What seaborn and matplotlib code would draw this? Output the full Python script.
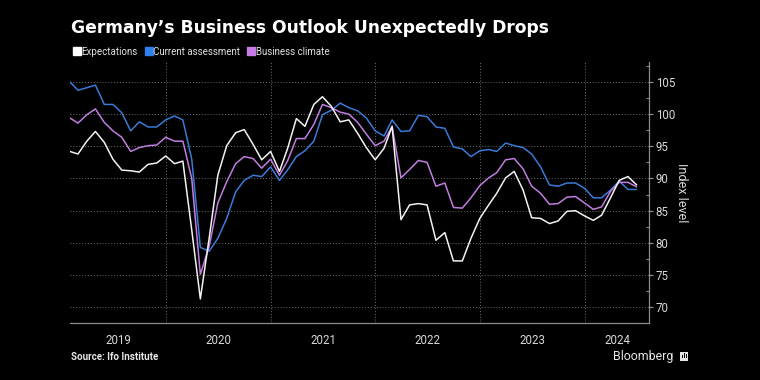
import numpy as np
import pandas as pd
import seaborn as sns
import matplotlib.pyplot as plt
import matplotlib.dates as mdates
import matplotlib.transforms as mtransforms
from matplotlib.lines import Line2D
from matplotlib.patches import Rectangle

# ifo index, monthly, Jan 2019 - Jun 2024
months = pd.date_range("2019-01-01", periods=66, freq="MS") + pd.offsets.MonthEnd(0)

expectations = [94.2, 93.8, 95.8, 97.3, 95.6, 93.0, 91.3, 91.2, 91.0, 92.2, 92.4, 93.5,
                92.3, 92.7, 82.0, 71.3, 80.8, 90.5, 95.1, 97.1, 97.6, 95.3, 92.9, 94.2,
                91.1, 94.6, 99.3, 98.1, 101.5, 102.7, 101.2, 98.8, 99.1, 97.0, 94.8, 92.9,
                94.7, 98.1, 83.6, 85.9, 86.1, 85.9, 80.4, 81.6, 77.2, 77.2, 80.7, 83.8,
                85.9, 87.7, 90.1, 91.1, 88.2, 83.9, 83.8, 83.0, 83.4, 84.9, 85.0, 84.2,
                83.5, 84.3, 87.0, 89.7, 90.3, 89.0]
current = [105.0, 103.7, 104.1, 104.5, 101.5, 101.5, 100.2, 97.4, 98.8, 98.0, 98.0, 99.1,
           99.7, 99.1, 93.0, 79.3, 78.7, 80.7, 83.8, 87.9, 89.7, 90.5, 90.3, 91.8,
           89.7, 91.3, 93.4, 94.3, 95.8, 99.9, 100.6, 101.7, 101.0, 100.5, 99.4, 97.4,
           96.6, 99.1, 97.3, 97.4, 99.8, 99.6, 98.0, 97.8, 94.9, 94.6, 93.4, 94.3,
           94.5, 94.2, 95.5, 95.1, 94.8, 93.8, 91.8, 89.0, 88.8, 89.3, 89.3, 88.5,
           87.0, 87.0, 88.2, 89.6, 88.3, 88.3]
climate = [99.4, 98.6, 99.9, 100.8, 98.7, 97.4, 96.4, 94.2, 94.8, 95.1, 95.2, 96.4,
           95.8, 95.8, 90.0, 75.1, 79.5, 86.2, 89.5, 92.3, 93.4, 93.1, 91.6, 93.0,
           90.5, 92.7, 96.2, 96.2, 98.4, 101.5, 101.0, 100.3, 100.0, 98.7, 96.9, 95.1,
           95.8, 98.1, 90.1, 91.4, 92.8, 92.5, 88.8, 89.3, 85.5, 85.4, 87.0, 88.9,
           90.1, 90.9, 92.9, 93.1, 91.5, 88.8, 87.7, 86.0, 86.1, 87.1, 87.2, 86.2,
           85.2, 85.6, 88.0, 89.4, 89.4, 88.7]

series = ["Expectations", "Current assessment", "Business climate"]
colors = {"Expectations": "#f2f2f2", "Current assessment": "#3a7bd5", "Business climate": "#c17de0"}
legend_colors = {"Expectations": "#ffffff", "Current assessment": "#2f80ed", "Business climate": "#c77be6"}
years = [2019, 2020, 2021, 2022, 2023, 2024]

df = pd.concat([
    pd.DataFrame({"date": months, "value": current, "series": "Current assessment"}),
    pd.DataFrame({"date": months, "value": climate, "series": "Business climate"}),
    pd.DataFrame({"date": months, "value": expectations, "series": "Expectations"}),
])

sns.set_style("dark")
plt.rcParams["font.family"] = ["Roboto", "DejaVu Sans"]
fig = plt.figure(figsize=(7.6, 3.8), dpi=100, facecolor="black")
ax = fig.add_axes([0.092, 0.149, 0.7626, 0.688])
ax.set_facecolor("black")

sns.lineplot(data=df, x="date", y="value", hue="series", palette=colors,
             linewidth=1.1, ax=ax, legend=False)

x0, x1 = pd.Timestamp("2019-01-31"), pd.Timestamp("2024-08-14")
ax.set_xlim(x0, x1)
ax.set_ylim(67.9, 108.1)

# axes look
for s in ["left", "top"]:
    ax.spines[s].set_visible(False)
for s in ["bottom", "right"]:
    ax.spines[s].set_color("#8a8a8a")
    ax.spines[s].set_linewidth(0.9)

ax.yaxis.tick_right()
ax.yaxis.set_label_position("right")
ax.set_yticks(np.arange(70, 106, 5))
ax.set_yticks(np.arange(67.5, 108, 2.5), minor=True)
ax.tick_params(axis="y", which="major", colors="#8a8a8a", labelcolor="#d9d9d9",
               labelsize=8.3, length=3, width=0.9, pad=1.5)
ax.tick_params(axis="y", which="minor", colors="#8a8a8a", length=2, width=0.8, direction="in")
ax.set_ylabel("Index level", color="#d9d9d9", fontsize=9, rotation=270, labelpad=9)
ax.set_xlabel("")

ax.xaxis.set_major_locator(mdates.YearLocator())
ax.xaxis.set_minor_locator(mdates.MonthLocator(bymonth=[4, 7, 10]))
ax.xaxis.set_major_formatter(plt.NullFormatter())
ax.tick_params(axis="x", which="major", colors="#8a8a8a", length=27, width=0.8)
ax.tick_params(axis="x", which="minor", colors="#8a8a8a", length=3, width=0.8)

ax.grid(axis="y", which="major", color="#6e6e6e", linestyle=(0, (1, 2)), linewidth=0.7)
ax.grid(axis="x", which="major", color="#6e6e6e", linestyle=(0, (1, 2)), linewidth=0.7)
ax.grid(axis="x", which="minor", visible=False)
ax.set_axisbelow(True)

# year labels centred in the visible part of each year
trans = mtransforms.blended_transform_factory(ax.transData, ax.transAxes)
for yr in years:
    a = max(pd.Timestamp(f"{yr}-01-01"), x0)
    b = min(pd.Timestamp(f"{yr + 1}-01-01"), x1)
    mid = mdates.date2num(a) + (mdates.date2num(b) - mdates.date2num(a)) / 2
    ax.text(mid, -0.065, str(yr), transform=trans, ha="center", va="center",
            color="#d9d9d9", fontsize=8.3)

# legend
handles = [Line2D([], [], marker="s", linestyle="none", markersize=5.5,
                  markerfacecolor=legend_colors[s], markeredgecolor=legend_colors[s]) for s in series]
leg = fig.legend(handles, series, loc="center left", bbox_to_anchor=(0.085, 0.864), ncol=3,
                 frameon=False, handlelength=0.7, handletextpad=0.15, columnspacing=0.75,
                 fontsize=7, labelcolor="#e0e0e0")

fig.text(0.093, 0.926, "Germany\u2019s Business Outlook Unexpectedly Drops", color="white",
         fontsize=12.3, fontweight="bold", ha="left", va="center", family="DejaVu Sans")
fig.text(0.093, 0.06, "Source: Ifo Institute", color="#e6e6e6", fontsize=7,
         fontweight="bold", ha="left", va="center")
fig.text(0.8855, 0.063, "Bloomberg", color="#e6e6e6", fontsize=8.9, ha="right", va="center")

# small Bloomberg glyph
fig.patches.append(Rectangle((680 / 760, 1 - 361 / 380), 8 / 760, 9 / 380,
                             transform=fig.transFigure, facecolor="#e6e6e6", edgecolor="none"))
for bx, bh in [(682, 3), (684, 5), (686, 4)]:
    fig.patches.append(Rectangle((bx / 760, 1 - 358 / 380), 1 / 760, bh / 380,
                                 transform=fig.transFigure, facecolor="black", edgecolor="none"))

fig.savefig("out.png", dpi=100, facecolor="black")
